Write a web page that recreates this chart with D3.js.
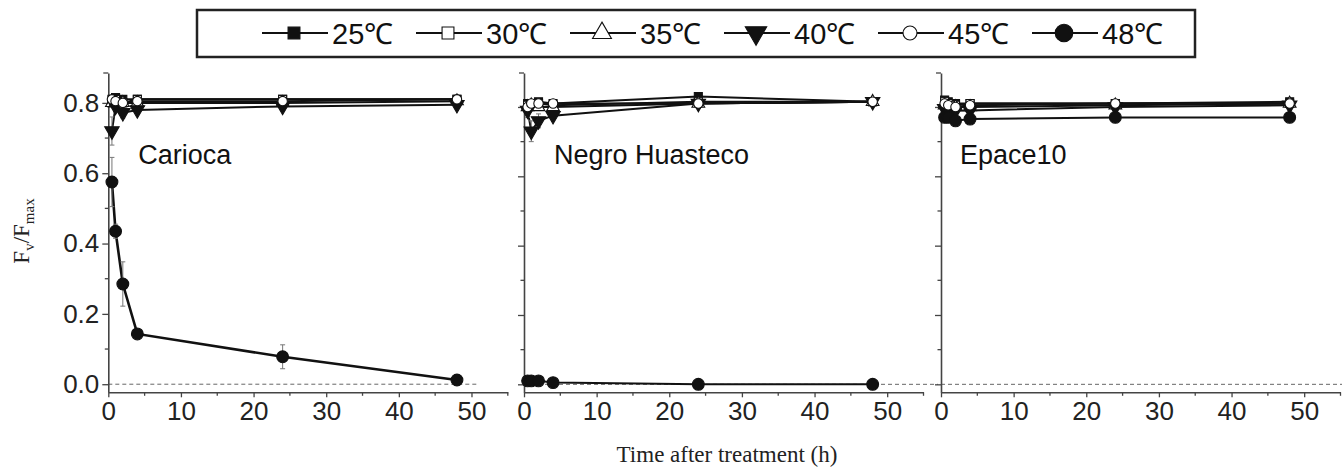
<!DOCTYPE html>
<html><head><meta charset="utf-8">
<script src="https://cdn.jsdelivr.net/npm/d3@7/dist/d3.min.js"></script>
<style>body{margin:0;background:#fff}svg{display:block}</style>
</head><body>
<svg id="c" width="1342" height="469"></svg>
<script>
// ---------- data ----------
const times = [0.5, 1, 2, 4, 24, 48];
const series = ["25℃", "30℃", "35℃", "40℃", "45℃", "48℃"];
const panels = ["Carioca", "Negro Huasteco", "Epace10"];

const carioca25 = [0.81, 0.815, 0.81, 0.81, 0.81, 0.81];
const carioca30 = [0.80, 0.81, 0.80, 0.81, 0.81, 0.81];
const carioca35 = [0.80, 0.80, 0.80, 0.80, 0.80, 0.805];
const carioca40 = [0.72, 0.79, 0.772, 0.78, 0.79, 0.795];
const carioca45 = [0.81, 0.805, 0.80, 0.805, 0.805, 0.81];
const carioca48 = [0.575, 0.435, 0.285, 0.143, 0.078, 0.012];
const cariocaErr40 = [0.04, 0.015, 0.015, 0.01, 0.01, 0.01];
const cariocaErr48 = [0.07, 0.02, 0.063, 0.01, 0.034, 0.005];

const negro25 = [0.81, 0.81, 0.815, 0.81, 0.83, 0.815];
const negro30 = [0.805, 0.81, 0.81, 0.805, 0.815, 0.815];
const negro35 = [0.80, 0.805, 0.80, 0.80, 0.81, 0.815];
const negro40 = [0.79, 0.73, 0.76, 0.775, 0.81, 0.815];
const negro45 = [0.80, 0.81, 0.81, 0.81, 0.81, 0.815];
const negro48 = [0.01, 0.01, 0.01, 0.005, 0.0, 0.0];
const negroErr40 = [0.02, 0.03, 0.02, 0.01, 0.01, 0.01];
const negroErr48 = [0.004, 0.004, 0.004, 0.003, 0.002, 0.002];

const epace25 = [0.82, 0.815, 0.81, 0.81, 0.81, 0.815];
const epace30 = [0.815, 0.81, 0.805, 0.81, 0.81, 0.81];
const epace35 = [0.805, 0.80, 0.80, 0.80, 0.805, 0.81];
const epace40 = [0.795, 0.79, 0.79, 0.79, 0.80, 0.805];
const epace45 = [0.81, 0.805, 0.80, 0.805, 0.81, 0.81];
const epace48 = [0.77, 0.77, 0.76, 0.765, 0.77, 0.77];
const epaceErr = [0.008, 0.008, 0.008, 0.008, 0.008, 0.008];

const smallErr = [0.008, 0.008, 0.008, 0.008, 0.008, 0.008];

const xTicks = [0, 10, 20, 30, 40, 50];
const xMinor = [5, 15, 25, 35, 45, 55];
const yTicks = [0.0, 0.2, 0.4, 0.6, 0.8];
const yMinor = [0.1, 0.3, 0.5, 0.7];

const panelData = [
  {vals:[carioca25,carioca30,carioca35,carioca40,carioca45,carioca48],
   errs:[smallErr,smallErr,smallErr,cariocaErr40,smallErr,cariocaErr48]},
  {vals:[negro25,negro30,negro35,negro40,negro45,negro48],
   errs:[smallErr,smallErr,smallErr,negroErr40,smallErr,negroErr48]},
  {vals:[epace25,epace30,epace35,epace40,epace45,epace48],
   errs:[epaceErr,epaceErr,epaceErr,epaceErr,epaceErr,epaceErr]}
];

// ---------- layout ----------
const svg = d3.select("#c");
const sans = "'Liberation Sans', Arial, sans-serif";
const serif = "'Liberation Serif', 'Times New Roman', serif";
const axisCol = "#444";
const panelX = [108.3, 524, 941];
const panelW = 399.5;
const yRanges = [[-0.023, 0.885], [-0.023, 0.898], [-0.023, 0.898]];
const dashEnd = [51, 57, 55.5];
const labelOffset = [30, 30, 19];
const yBottom = 392.3, yTop = 73;

// marker drawer
function marker(g, i, x, y, k) {
  k = k || 1;
  const sym = [d3.symbolSquare, d3.symbolSquare, d3.symbolTriangle, d3.symbolTriangle, d3.symbolCircle, d3.symbolCircle][i];
  const size = [64, 64, 70, 90, 70, 110][i] * k;
  const fill = [1, 0, 0, 1, 0, 1][i] ? "#111" : "#fff";
  const rot = i === 3 ? 180 : 0;
  g.append("path")
    .attr("d", d3.symbol().type(sym).size(size)())
    .attr("transform", `translate(${x},${y}) rotate(${rot})`)
    .attr("fill", fill).attr("stroke", "#111").attr("stroke-width", 1.1);
}

panels.forEach((name, p) => {
  const x = d3.scaleLinear().domain([0, 55]).range([panelX[p], panelX[p] + panelW]);
  const y = d3.scaleLinear().domain(yRanges[p]).range([yBottom, yTop]);
  const g = svg.append("g");

  // dashed zero line
  g.append("line").attr("x1", x(0)).attr("x2", x(dashEnd[p]))
    .attr("y1", y(0)).attr("y2", y(0))
    .attr("stroke", "#666").attr("stroke-width", 1).attr("stroke-dasharray", "4,3");

  // x axis
  const xa = g.append("g").attr("transform", `translate(0,${yBottom})`)
    .call(d3.axisBottom(x).tickValues(xTicks).tickSize(5).tickSizeOuter(0).tickPadding(4));
  xa.select(".domain").attr("stroke", axisCol).attr("stroke-width", 1.6);
  xa.selectAll(".tick line").attr("stroke", axisCol).attr("stroke-width", 1.3);
  xa.selectAll("text").attr("font-family", sans).attr("font-size", 26).attr("fill", "#222");
  xMinor.forEach(v => g.append("line").attr("x1", x(v)).attr("x2", x(v))
    .attr("y1", yBottom).attr("y2", yBottom + 3.5).attr("stroke", axisCol).attr("stroke-width", 1.3));

  // y axis
  const ya = g.append("g").attr("transform", `translate(${x(0)},0)`)
    .call(d3.axisLeft(y).tickValues(yTicks).tickSize(6).tickSizeOuter(0).tickPadding(3)
      .tickFormat(p === 0 ? d3.format(".1f") : () => ""));
  ya.select(".domain").attr("stroke", axisCol).attr("stroke-width", 1.6);
  ya.selectAll(".tick line").attr("stroke", axisCol).attr("stroke-width", 1.3);
  ya.selectAll("text").attr("font-family", sans).attr("font-size", 26).attr("fill", "#222");
  yMinor.forEach(v => g.append("line").attr("x1", x(0)).attr("x2", x(0) - 3.5)
    .attr("y1", y(v)).attr("y2", y(v)).attr("stroke", axisCol).attr("stroke-width", 1.3));
  g.append("line").attr("x1", x(0)).attr("x2", x(0) - 5).attr("y1", yTop).attr("y2", yTop)
    .attr("stroke", axisCol).attr("stroke-width", 1.3);

  // panel label
  g.append("text").attr("x", x(0) + labelOffset[p]).attr("y", 164).text(name)
    .attr("font-family", sans).attr("font-size", 27).attr("fill", "#111");

  const d = panelData[p];
  // lines
  d.vals.forEach((vals, i) => {
    const line = d3.line().x((v, k) => x(times[k])).y(v => y(v));
    g.append("path").attr("d", line(vals)).attr("fill", "none")
      .attr("stroke", "#111").attr("stroke-width", i === 5 && p === 0 ? 2.6 : 2);
  });
  // error bars
  d.vals.forEach((vals, i) => {
    vals.forEach((v, k) => {
      const e = d.errs[i][k];
      const cx = x(times[k]);
      g.append("line").attr("x1", cx).attr("x2", cx).attr("y1", y(v - e)).attr("y2", y(v + e))
        .attr("stroke", "#777").attr("stroke-width", 1);
      [v - e, v + e].forEach(t => g.append("line").attr("x1", cx - 2.5).attr("x2", cx + 2.5)
        .attr("y1", y(t)).attr("y2", y(t)).attr("stroke", "#777").attr("stroke-width", 1));
    });
  });
  // markers
  d.vals.forEach((vals, i) => {
    vals.forEach((v, k) => marker(g, i, x(times[k]), y(v)));
  });
});

// legend
svg.append("rect").attr("x", 197).attr("y", 10).attr("width", 998).attr("height", 47)
  .attr("fill", "#fff").attr("stroke", "#222").attr("stroke-width", 2.5);
series.forEach((s, i) => {
  const x0 = 262 + i * 154;
  const lg = svg.append("g");
  lg.append("line").attr("x1", x0).attr("x2", x0 + 66).attr("y1", 33).attr("y2", 33)
    .attr("stroke", "#111").attr("stroke-width", 1.8);
  marker(lg, i, x0 + 32, 33, 2.2);
  lg.append("text").attr("x", x0 + 70).attr("y", 43.5).text(s)
    .attr("font-family", sans)
    .attr("font-size", 29).attr("fill", "#111");
});

// axis titles
svg.append("text").attr("x", 727).attr("y", 462).attr("text-anchor", "middle")
  .attr("font-family", serif).attr("font-size", 23).attr("fill", "#222")
  .text("Time after treatment (h)");
const yt = svg.append("text").attr("transform", "translate(29,231) rotate(-90)")
  .attr("text-anchor", "middle").attr("font-family", serif).attr("font-size", 23).attr("fill", "#222");
yt.append("tspan").text("F");
yt.append("tspan").text("v").attr("font-size", 15).attr("dy", 5);
yt.append("tspan").text("/F").attr("dy", -5);
yt.append("tspan").text("max").attr("font-size", 15).attr("dy", 5);
</script>
</body></html>
